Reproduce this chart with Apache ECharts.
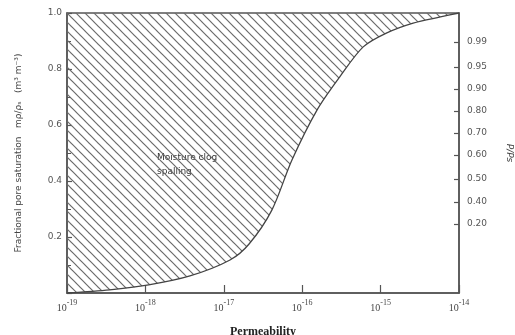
<!DOCTYPE html>
<html>
<head>
<meta charset="utf-8">
<script src="https://cdn.jsdelivr.net/npm/echarts@6/dist/echarts.min.js"></script>
<style>
  html, body { margin: 0; padding: 0; background: #fff; }
  #chart { width: 515px; height: 335px; }
</style>
</head>
<body>
<div id="chart"></div>
<script>
// permeability (m^2) and fractional pore saturation along the boundary curve
const permeability = [1e-19, 3.5e-19, 1.1e-18, 3.7e-18, 1.2e-17, 2.1e-17, 4.1e-17,
  7.4e-17, 1.55e-16, 3.0e-16, 6.0e-16, 1.2e-15, 2.6e-15, 5.8e-15, 1e-14];
const saturation = [0.0, 0.011, 0.029, 0.061, 0.118, 0.175, 0.296,
  0.475, 0.654, 0.771, 0.879, 0.929, 0.964, 0.986, 1.0];

// right axis: P/Ps labels and the saturation they sit at
const ppsLabels = ['0.20', '0.40', '0.50', '0.60', '0.70', '0.80', '0.90', '0.95', '0.99'];
const ppsAt = [0.246, 0.325, 0.407, 0.493, 0.571, 0.65, 0.729, 0.807, 0.896];

const leftTicks = [0.2, 0.4, 0.6, 0.8, 1.0];

// hatch pattern
const hatch = document.createElement('canvas');
hatch.width = 9;
hatch.height = 9;
const hctx = hatch.getContext('2d');
hctx.strokeStyle = '#6a6a6a';
hctx.lineWidth = 1.2;
[-9, 0, 9].forEach(k => {
  hctx.beginPath();
  hctx.moveTo(k - 1, -1);
  hctx.lineTo(k + 10, 10);
  hctx.stroke();
});

const chart = echarts.init(document.getElementById('chart'));
const axisColor = '#555';

const option = {
  animation: false,
  grid: {
    left: 67, right: 56, top: 13, bottom: 42,
    outerBoundsMode: 'none',
    containLabel: false,
    show: true, borderColor: axisColor, borderWidth: 1.5
  },
  xAxis: {
    type: 'log',
    logBase: 10,
    min: 1e-19,
    max: 1e-14,
    splitNumber: 5,
    name: 'Permeability',
    nameLocation: 'middle',
    nameGap: 33,
    nameTextStyle: { fontFamily: 'Liberation Serif', fontSize: 12, fontWeight: 'bold', color: '#222' },
    axisLine: { lineStyle: { color: axisColor, width: 1.5 } },
    axisTick: { inside: true, length: 8, lineStyle: { color: axisColor, width: 1.2 } },
    splitLine: { show: false },
    minorTick: { show: false },
    axisLabel: {
      margin: 6,
      formatter: v => '{b|10}{s|' + Math.round(Math.log10(v)) + '}',
      rich: {
        b: { fontFamily: 'Liberation Serif', fontSize: 10, color: '#444', verticalAlign: 'bottom', lineHeight: 14 },
        s: { fontFamily: 'Liberation Serif', fontSize: 8, color: '#444', verticalAlign: 'top', lineHeight: 14 }
      }
    }
  },
  yAxis: [
    {
      type: 'value',
      min: 0,
      max: 1,
      interval: 0.2,
      name: 'Fractional pore saturation   mρ/ρₛ   (m³ m⁻³)',
      nameLocation: 'middle',
      nameRotate: 90,
      nameGap: 44,
      nameTextStyle: { fontFamily: 'DejaVu Sans', fontSize: 9, color: '#444' },
      axisLine: { show: true, lineStyle: { color: axisColor, width: 1.5 } },
      axisTick: { inside: true, length: 5, lineStyle: { color: axisColor, width: 1.2 } },
      minorTick: { show: true, splitNumber: 2, length: 4, lineStyle: { color: axisColor } },
      splitLine: { show: false },
      axisLabel: {
        color: '#555', fontSize: 9, fontFamily: 'DejaVu Sans', margin: 5,
        customValues: leftTicks,
        formatter: v => v.toFixed(1)
      }
    },
    {
      type: 'value',
      min: 0,
      max: 1,
      position: 'right',
      name: 'P/Ps',
      nameLocation: 'middle',
      nameRotate: -90,
      nameGap: 46,
      nameTextStyle: { fontFamily: 'DejaVu Sans', fontSize: 9, fontStyle: 'italic', color: '#444' },
      axisLine: { show: true, lineStyle: { color: axisColor, width: 1.5 } },
      axisTick: { inside: true, length: 5, customValues: ppsAt, lineStyle: { color: axisColor, width: 1.2 } },
      splitLine: { show: false },
      axisLabel: {
        color: '#555', fontSize: 9, fontFamily: 'DejaVu Sans', margin: 8,
        customValues: ppsAt,
        formatter: v => {
          const i = ppsAt.findIndex(p => Math.abs(p - v) < 1e-6);
          return i >= 0 ? ppsLabels[i] : '';
        }
      }
    }
  ],
  series: [
    {
      type: 'line',
      data: permeability.map((p, i) => [p, saturation[i]]),
      smooth: 0.3,
      symbol: 'none',
      lineStyle: { color: '#444', width: 1.3 },
      areaStyle: { origin: 'end', opacity: 1, color: { image: hatch, repeat: 'repeat' } }
    }
  ],
  graphic: [
    {
      type: 'text',
      left: 157,
      top: 151,
      style: {
        text: 'Moisture clog\nspalling',
        font: '9px "DejaVu Sans"',
        fill: '#333',
        lineHeight: 14
      }
    }
  ]
};

chart.setOption(option);
</script>
</body>
</html>
